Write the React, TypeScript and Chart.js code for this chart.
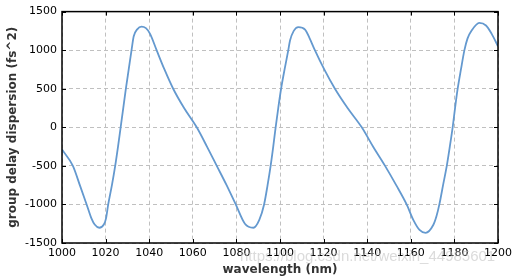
import React, { useEffect, useRef } from "react";
import { Chart, registerables } from "chart.js";

Chart.register(...registerables);

const wavelength = [
  1000, 1005.0, 1008.3, 1011.3, 1013.5, 1015, 1017.1, 1019.2, 1020.2, 1021.2, 1022.9, 1024.4, 1025.7,
  1026.9, 1028.1, 1029.3, 1030.6, 1031.9, 1032.9, 1034.5, 1036.5, 1038.5, 1040.4, 1043.4, 1047, 1051, 1056, 1061.8,
  1066.5, 1071, 1075.5, 1079.7, 1083.9, 1087.8, 1090.5, 1092.7, 1094.3, 1095.7, 1096.9, 1098, 1099.2, 1100.5,
  1102.1, 1103.8, 1104.6, 1106.3, 1108.4, 1111.5, 1113.5, 1116, 1120.3, 1125.2, 1131, 1137.5, 1142.8, 1148.2, 1153.3,
  1158.1, 1161.2, 1164, 1166.8, 1170.3, 1171.8, 1173.1, 1174.8, 1176.5, 1177.9, 1179.2, 1180.3, 1181.5, 1183,
  1184.6, 1186, 1187.9, 1191.4, 1194.5, 1197.1, 1200,
];
const gdd = [
  -288, -500, -760, -1000, -1180, -1260, -1302, -1260, -1180, -1000, -750, -500, -250,
  0, 250, 500, 750, 1000, 1180, 1270, 1306, 1285, 1212, 1000, 750, 500, 250, 0,
  -250, -500, -750, -1000, -1250, -1302, -1200, -1000, -750, -500, -250, 0, 250, 500,
  750, 1000, 1125, 1250, 1300, 1267, 1160, 1000, 750, 500, 250, 0, -255, -500, -750,
  -1000, -1203, -1330, -1368, -1267, -1150, -1000, -750, -500, -250, 0, 250, 500, 750,
  1000, 1150, 1254, 1354, 1320, 1211, 1051,
];
const xTitle = "wavelength (nm)";
const yTitle = "group delay dispersion (fs^2)";
const watermark = "https://blog.csdn.net/weixin_44985601";

const boxPlugin = {
  id: "boxTicks",
  afterDraw(chart: any) {
    const { ctx, chartArea: a, scales } = chart;
    ctx.save();
    ctx.strokeStyle = "#000";
    ctx.lineWidth = 1;
    ctx.beginPath();
    const L = 4;
    scales.x.ticks.forEach((t: any) => {
      const px = Math.round(scales.x.getPixelForValue(t.value)) + 0.5;
      ctx.moveTo(px, a.top);
      ctx.lineTo(px, a.top + L);
      ctx.moveTo(px, a.bottom);
      ctx.lineTo(px, a.bottom - L);
    });
    scales.y.ticks.forEach((t: any) => {
      const py = Math.round(scales.y.getPixelForValue(t.value)) + 0.5;
      ctx.moveTo(a.left, py);
      ctx.lineTo(a.left + L, py);
      ctx.moveTo(a.right, py);
      ctx.lineTo(a.right - L, py);
    });
    ctx.stroke();
    ctx.lineWidth = 1.5;
    ctx.strokeRect(a.left, a.top, a.right - a.left, a.bottom - a.top);
    ctx.restore();
  },
};

export default function App() {
  const ref = useRef<HTMLCanvasElement | null>(null);
  useEffect(() => {
    document.body.style.margin = "0";
    const points = wavelength.map((x, i) => ({ x, y: gdd[i] }));
    const chart = new Chart(ref.current as HTMLCanvasElement, {
      type: "line",
      data: {
        datasets: [
          {
            data: points,
            borderColor: "#6499cf",
            borderWidth: 1.8,
            pointRadius: 0,
            cubicInterpolationMode: "monotone",
            fill: false,
          },
        ],
      },
      options: {
        animation: false,
        responsive: false,
        maintainAspectRatio: false,
        layout: { padding: { top: 11, right: 22, left: 0, bottom: 0 } },
        plugins: { legend: { display: false }, tooltip: { enabled: false } },
        scales: {
          x: {
            type: "linear",
            min: 1000,
            max: 1200,
            afterFit: (s: any) => {
              s.height = 37;
            },
            ticks: {
              stepSize: 20,
              color: "#000",
              padding: 4,
              font: { family: "DejaVu Sans", size: 11 },
              callback: (v: any) => String(v),
            },
            grid: { color: "#c0c0c0", drawTicks: false, tickLength: 0 },
            border: { display: false, dash: [4, 3] },
            title: {
              display: true,
              text: xTitle,
              color: "#333",
              padding: { top: 0, bottom: 3 },
              font: { family: "DejaVu Sans", size: 12, weight: "bold" },
            },
          },
          y: {
            min: -1500,
            max: 1500,
            afterFit: (s: any) => {
              s.width = 62;
            },
            ticks: {
              stepSize: 500,
              color: "#000",
              padding: 5,
              font: { family: "DejaVu Sans", size: 11 },
              callback: (v: any) => String(v),
            },
            grid: { color: "#c0c0c0", drawTicks: false, tickLength: 0 },
            border: { display: false, dash: [4, 3] },
            title: {
              display: true,
              text: yTitle,
              color: "#333",
              padding: { top: 6, bottom: 0 },
              font: { family: "DejaVu Sans", size: 12, weight: "bold" },
            },
          },
        },
      },
      plugins: [boxPlugin],
    } as any);
    return () => chart.destroy();
  }, []);
  return (
    <div style={{ position: "relative", width: 520, height: 280 }}>
      <canvas ref={ref} width={520} height={280} style={{ display: "block" }} />
      <div
        style={{
          position: "absolute",
          left: 240,
          top: 247,
          fontFamily: "Liberation Sans",
          fontSize: 15,
          color: "rgba(190,190,190,0.55)",
          pointerEvents: "none",
          whiteSpace: "nowrap",
        }}
      >
        {watermark}
      </div>
    </div>
  );
}
